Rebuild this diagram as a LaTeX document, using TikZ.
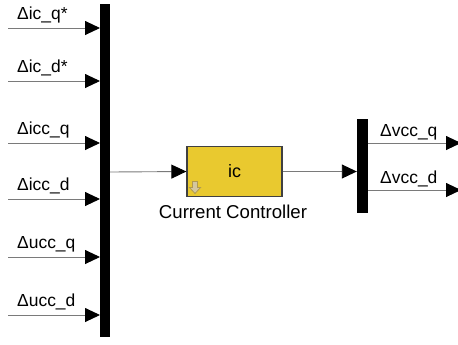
\documentclass[tikz,border=0pt]{standalone}
\usepackage{fontspec}
\setmainfont{Liberation Sans}
\usetikzlibrary{arrows.meta}
\definecolor{blockyellow}{HTML}{E9C92F}
\definecolor{wiregray}{HTML}{7A7A7A}
\definecolor{iconcol}{HTML}{B09A50}
\tikzset{
  wire/.style={draw=wiregray, line width=0.9bp, -{Triangle[length=15bp,width=14bp,fill=black,color=black]}},
  busbar/.style={fill=black, draw=none},
  sig/.style={font=\fontsize{17.5}{19}\selectfont, anchor=base west, inner sep=0pt},
  ctrl/.style={fill=blockyellow, draw=black!75, line width=1.3bp, minimum width=95bp, minimum height=50bp, inner sep=0pt, font=\fontsize{18}{20}\selectfont},
}
\begin{document}
\begin{tikzpicture}[x=1bp,y=-1bp]
\useasboundingbox (0,0) rectangle (458,344);
\clip (0,0) rectangle (458,344);
% left bus
\node[busbar, minimum width=10bp, minimum height=333bp, inner sep=0pt] (busL) at (105,170.5) {};
% inputs
\foreach \yy/\lab/\nm in {28/{Δic\_q*}/a, 81/{Δic\_d*}/b, 143/{Δicc\_q}/c, 199/{Δicc\_d}/d, 257/{Δucc\_q}/e, 315/{Δucc\_d}/f}{
  \coordinate (in\nm) at (8,\yy);
  \coordinate (bi\nm) at (100,\yy);
  \draw[wire] (in\nm) -- (bi\nm);
  \node[sig] (l\nm) at (17,\yy-9) {\lab};
}
% controller block
\node[ctrl] (cc) at (234.5,171.5) {ic};
\node[font=\fontsize{18.7}{20}\selectfont, anchor=base] (cclab) at (233,218) {Current Controller};
% icon
\draw[iconcol, line width=0.8bp, fill=iconcol!55] (192.5,181.5) -- (197.5,181.5) -- (197.5,187.5) -- (200.5,187.5) -- (195,193.5) -- (189.5,187.5) -- (192.5,187.5) -- cycle;
% bus out
\coordinate (bo) at (110,172);
\draw[wire] (bo) -- (cc.west);
% right bus
\node[busbar, minimum width=11bp, minimum height=94bp, inner sep=0pt] (busR) at (362.5,166) {};
\draw[wire] (cc.east) -- (busR.west|-cc.east);
% outputs
\coordinate (oq0) at (368,143);
\coordinate (oq1) at (461,143);
\coordinate (od0) at (368,190);
\coordinate (od1) at (461,190);
\draw[wire] (oq0) -- (oq1);
\draw[wire] (od0) -- (od1);
\node[sig] (lq) at (380,136) {Δvcc\_q};
\node[sig] (ld) at (380,183) {Δvcc\_d};
\end{tikzpicture}
\end{document}
